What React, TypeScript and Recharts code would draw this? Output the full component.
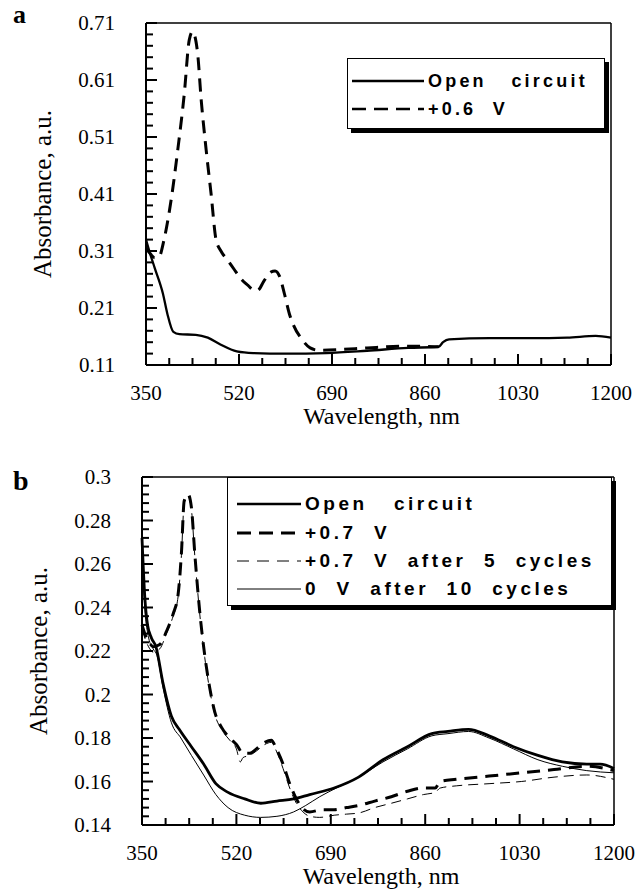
import React from "react";
import { LineChart, Line, XAxis, YAxis, Legend, CartesianGrid } from "recharts";

// wavelength axis, both panels
const wavelengthTicks = [350, 520, 690, 860, 1030, 1200];

// panel a
const absTicksA = [0.11, 0.21, 0.31, 0.41, 0.51, 0.61, 0.71];
const absLabelsA = ["0.11", "0.21", "0.31", "0.41", "0.51", "0.61", "0.71"];
const openWaveA = [350, 356, 366, 381, 389, 400, 411, 441, 463, 486, 516, 546, 605, 680, 754, 829, 885, 893, 904, 978, 1053, 1120, 1172, 1200];
const openAbsA = [0.33, 0.31, 0.28, 0.235, 0.2, 0.168, 0.164, 0.163, 0.158, 0.146, 0.134, 0.131, 0.13, 0.131, 0.135, 0.14, 0.142, 0.15, 0.155, 0.157, 0.157, 0.158, 0.161, 0.158];
const biasWaveA = [350, 358, 366, 374, 383, 396, 408, 420, 429, 435, 444, 451, 460, 469, 478, 487, 500, 511, 523, 536, 546, 554, 566, 578, 586, 594, 603, 612, 620, 635, 650, 665, 702, 754, 829, 885];
const biasAbsA = [0.315, 0.305, 0.298, 0.3, 0.33, 0.4, 0.487, 0.586, 0.68, 0.695, 0.66, 0.574, 0.487, 0.41, 0.33, 0.31, 0.293, 0.278, 0.262, 0.25, 0.242, 0.241, 0.258, 0.273, 0.275, 0.266, 0.235, 0.2, 0.179, 0.155, 0.14, 0.136, 0.137, 0.14, 0.143, 0.142];

// panel b
const absTicksB = [0.14, 0.16, 0.18, 0.2, 0.22, 0.24, 0.26, 0.28, 0.3];
const absLabelsB = ["0.14", "0.16", "0.18", "0.2", "0.22", "0.24", "0.26", "0.28", "0.3"];
const openWaveB = [350, 355, 360, 367, 375, 388, 403, 417, 439, 461, 483, 505, 535, 564, 593, 623, 652, 696, 740, 784, 828, 872, 901, 938, 975, 1019, 1063, 1107, 1151, 1175, 1200];
const openAbsB = [0.272, 0.245, 0.232, 0.226, 0.222, 0.205, 0.19, 0.184, 0.176, 0.168, 0.159, 0.155, 0.152, 0.15, 0.151, 0.152, 0.154, 0.157, 0.162, 0.17, 0.176, 0.182, 0.183, 0.184, 0.181, 0.176, 0.172, 0.169, 0.168, 0.168, 0.166];
const biasWaveB = [350, 358, 364, 370, 382, 394, 406, 415, 421, 426, 433, 439, 445, 454, 463, 472, 481, 493, 508, 520, 532, 544, 556, 571, 583, 592, 604, 616, 628, 638, 652, 674, 696, 718, 740, 769, 799, 828, 857, 878, 887, 916, 975, 1033, 1092, 1151, 1200];
const biasAbsB = [0.232, 0.226, 0.2235, 0.222, 0.223, 0.229, 0.237, 0.246, 0.265, 0.289, 0.292, 0.286, 0.265, 0.238, 0.218, 0.203, 0.192, 0.185, 0.18, 0.177, 0.173, 0.173, 0.175, 0.178, 0.179, 0.175, 0.168, 0.159, 0.152, 0.148, 0.146, 0.147, 0.147, 0.148, 0.149, 0.151, 0.153, 0.1555, 0.157, 0.157, 0.16, 0.161, 0.1625, 0.164, 0.1655, 0.167, 0.165];
const cycledWaveB = [350, 358, 364, 370, 382, 394, 406, 415, 421, 426, 433, 439, 445, 454, 463, 472, 481, 493, 508, 520, 527, 532, 544, 556, 571, 583, 592, 604, 616, 628, 640, 652, 670, 696, 718, 740, 769, 799, 828, 857, 878, 887, 916, 975, 1033, 1092, 1151, 1200];
const cycledAbsB = [0.23, 0.224, 0.221, 0.2195, 0.221, 0.228, 0.236, 0.245, 0.264, 0.288, 0.291, 0.285, 0.264, 0.237, 0.217, 0.202, 0.191, 0.184, 0.179, 0.175, 0.169, 0.171, 0.172, 0.174, 0.177, 0.178, 0.174, 0.166, 0.157, 0.15, 0.146, 0.144, 0.1435, 0.1445, 0.145, 0.1455, 0.148, 0.15, 0.152, 0.154, 0.155, 0.157, 0.158, 0.159, 0.16, 0.162, 0.163, 0.161];
const zeroWaveB = [350, 355, 362, 370, 377, 388, 403, 420, 439, 461, 483, 505, 535, 564, 593, 623, 645, 670, 700, 740, 784, 828, 872, 901, 938, 975, 1019, 1063, 1107, 1151, 1200];
const zeroAbsB = [0.265, 0.24, 0.226, 0.221, 0.218, 0.203, 0.187, 0.18, 0.172, 0.163, 0.154, 0.148, 0.1445, 0.1435, 0.144, 0.146, 0.149, 0.153, 0.157, 0.162, 0.169, 0.175, 0.181, 0.182, 0.183, 0.18, 0.175, 0.17, 0.167, 0.165, 0.164];

const serif = "'Liberation Serif', 'Times New Roman', serif";
const sans = "'Liberation Sans', Arial, sans-serif";

const pts = (xs: number[], ys: number[]) => xs.map((x, i) => ({ x, y: ys[i] }));

// majors plus evenly spaced minor ticks between them
const withMinor = (majors: number[], parts: number) => {
  const out: number[] = [];
  majors.forEach((m, i) => {
    out.push(m);
    const next = majors[i + 1];
    if (next === undefined) return;
    for (let k = 1; k < parts; k++) out.push(+(m + ((next - m) * k) / parts).toFixed(4));
  });
  return out;
};

const isIn = (list: number[], v: number) => list.some((m) => Math.abs(m - v) < 1e-6);

// inward tick marks as tiny two-point series; length given in pixels, converted with the axis span
type Frame = { x0: number; x1: number; y0: number; y1: number; w: number; h: number };
const tickSegments = (f: Frame, xs: number[], ys: number[], xMajors: number[], yMajors: number[]) => {
  const pxX = (f.x1 - f.x0) / f.w;
  const pxY = (f.y1 - f.y0) / f.h;
  const segs: { x: number; y: number }[][] = [];
  xs.forEach((v) => {
    const len = isIn(xMajors, v) ? 11 : 7;
    segs.push([{ x: v, y: f.y0 }, { x: v, y: f.y0 + len * pxY }]);
  });
  ys.forEach((v) => {
    const len = isIn(yMajors, v) ? 11 : 7;
    segs.push([{ x: f.x0, y: v }, { x: f.x0 + len * pxX, y: v }]);
  });
  return segs.map((d, i) => (
    <Line key={`t${i}`} data={d} dataKey="y" type="linear" stroke="#000" strokeWidth={2} dot={false} legendType="none" isAnimationActive={false} />
  ));
};

const xTick = (props: any) => (
  <text x={props.x} y={props.y} textAnchor="middle" dominantBaseline="central" fontFamily={serif} fontSize={21} fill="#000">
    {props.payload.value}
  </text>
);

const yTick = (majors: number[], labels: string[]) => (props: any) => {
  const idx = majors.findIndex((m) => Math.abs(m - props.payload.value) < 1e-6);
  return (
    <text x={props.x} y={props.y} textAnchor="end" dominantBaseline="central" fontFamily={serif} fontSize={21} fill="#000">
      {labels[idx]}
    </text>
  );
};

const yTitle = (props: any) => {
  const vb = props.viewBox;
  const cx = vb.x + vb.width - 104;
  const cy = vb.y + vb.height / 2;
  return (
    <text x={cx} y={cy} transform={`rotate(-90 ${cx} ${cy})`} textAnchor="middle" dominantBaseline="central" fontFamily={serif} fontSize={25} fill="#000">
      Absorbance, a.u.
    </text>
  );
};

const xTitle = (dy: number) => (props: any) => {
  const vb = props.viewBox;
  return (
    <text x={vb.x + vb.width / 2 + 3} y={vb.y + dy} textAnchor="middle" dominantBaseline="central" fontFamily={serif} fontSize={24} fill="#000">
      Wavelength, nm
    </text>
  );
};

// plot frame: only the outer edges of the grid
const frameH = ({ offset }: any) => [offset.top, offset.top + offset.height];
const frameV = ({ offset }: any) => [offset.left, offset.left + offset.width];

type Entry = { name: string; width: number; dash?: string };

const legendBox =
  (entries: Entry[], o: { rows: number[]; sx: number; sw: number; tx: number; font: number; ls: number }) =>
  () =>
    (
      <div
        style={{
          position: "relative",
          width: "100%",
          height: "100%",
          boxSizing: "border-box",
          border: "1.5px solid #000",
          boxShadow: "4px 4px 0 #000",
          background: "#fff",
        }}
      >
        {entries.map((e, i) => (
          <div key={e.name} style={{ position: "absolute", left: 0, top: o.rows[i] - 12, height: 24, width: "100%" }}>
            <svg width={o.sw} height={24} style={{ position: "absolute", left: o.sx, top: 0 }}>
              <line x1={0} x2={o.sw} y1={12} y2={12} stroke="#000" strokeWidth={e.width} strokeDasharray={e.dash} />
            </svg>
            <span
              style={{
                position: "absolute",
                left: o.tx,
                top: 0,
                lineHeight: "24px",
                fontFamily: sans,
                fontWeight: 700,
                fontSize: o.font,
                letterSpacing: o.ls,
                whiteSpace: "pre",
                color: "#000",
              }}
            >
              {e.name}
            </span>
          </div>
        ))}
      </div>
    );

const legendA: Entry[] = [
  { name: "Open   circuit", width: 2.5 },
  { name: "+0.6  V", width: 2.5, dash: "14 8" },
];
const legendB: Entry[] = [
  { name: "Open   circuit", width: 2.5 },
  { name: "+0.7  V", width: 3, dash: "14 8" },
  { name: "+0.7  V  after  5  cycles", width: 1, dash: "12 8" },
  { name: "0  V  after  10  cycles", width: 1 },
];

const xAll = withMinor(wavelengthTicks, 4);
const frameA: Frame = { x0: 350, x1: 1200, y0: 0.11, y1: 0.71, w: 465, h: 342 };
const frameB: Frame = { x0: 350, x1: 1200, y0: 0.14, y1: 0.3, w: 472, h: 348 };

function PanelA() {
  return (
    <LineChart width={638} height={430} margin={{ top: 23, right: 27, left: 106, bottom: 35 }}>
      <CartesianGrid stroke="#000" strokeWidth={1.5} fill="none" horizontalCoordinatesGenerator={frameH} verticalCoordinatesGenerator={frameV} />
      <XAxis
        type="number"
        dataKey="x"
        domain={[350, 1200]}
        ticks={wavelengthTicks}
        interval={0}
        tickSize={0}
        tickMargin={28}
        tickLine={false}
        tick={xTick}
        height={30}
        axisLine={{ stroke: "#000", strokeWidth: 2 }}
        label={xTitle(51)}
      />
      <YAxis
        type="number"
        dataKey="y"
        domain={[0.11, 0.71]}
        ticks={absTicksA}
        interval={0}
        tickSize={0}
        tickMargin={31}
        tickLine={false}
        tick={yTick(absTicksA, absLabelsA)}
        width={40}
        axisLine={{ stroke: "#000", strokeWidth: 2 }}
        label={yTitle}
      />
      <Legend
        layout="vertical"
        align="center"
        verticalAlign="middle"
        wrapperStyle={{ left: 347, top: 58, width: 258, height: 71 }}
        content={legendBox(legendA, { rows: [22, 50], sx: 4, sw: 72, tx: 80, font: 18, ls: 3.2 })}
      />
      {tickSegments(frameA, xAll, withMinor(absTicksA, 5), wavelengthTicks, absTicksA)}
      <Line data={pts(biasWaveA, biasAbsA)} dataKey="y" name="+0.6 V" type="monotone" stroke="#000" strokeWidth={3} strokeDasharray="13 8" dot={false} isAnimationActive={false} />
      <Line data={pts(openWaveA, openAbsA)} dataKey="y" name="Open circuit" type="monotone" stroke="#000" strokeWidth={2.3} dot={false} isAnimationActive={false} />
    </LineChart>
  );
}

function PanelB() {
  return (
    <LineChart width={638} height={452} margin={{ top: 37, right: 24, left: 102, bottom: 37 }}>
      <CartesianGrid stroke="#000" strokeWidth={1.5} fill="none" horizontalCoordinatesGenerator={frameH} verticalCoordinatesGenerator={frameV} />
      <XAxis
        type="number"
        dataKey="x"
        domain={[350, 1200]}
        ticks={wavelengthTicks}
        interval={0}
        tickSize={0}
        tickMargin={28}
        tickLine={false}
        tick={xTick}
        height={30}
        axisLine={{ stroke: "#000", strokeWidth: 2 }}
        label={xTitle(51)}
      />
      <YAxis
        type="number"
        dataKey="y"
        domain={[0.14, 0.3]}
        ticks={absTicksB}
        interval={0}
        tickSize={0}
        tickMargin={31}
        tickLine={false}
        tick={yTick(absTicksB, absLabelsB)}
        width={40}
        axisLine={{ stroke: "#000", strokeWidth: 2 }}
        label={yTitle}
      />
      <Legend
        layout="vertical"
        align="center"
        verticalAlign="middle"
        wrapperStyle={{ left: 227, top: 37, width: 385, height: 129 }}
        content={legendBox(legendB, { rows: [26, 55, 83, 111], sx: 9, sw: 64, tx: 77, font: 19, ls: 3.5 })}
      />
      {tickSegments(frameB, xAll, withMinor(absTicksB, 5), wavelengthTicks, absTicksB)}
      <Line data={pts(zeroWaveB, zeroAbsB)} dataKey="y" name="0 V after 10 cycles" type="monotone" stroke="#000" strokeWidth={1} dot={false} isAnimationActive={false} />
      <Line data={pts(cycledWaveB, cycledAbsB)} dataKey="y" name="+0.7 V after 5 cycles" type="monotone" stroke="#000" strokeWidth={1} strokeDasharray="10 6" dot={false} isAnimationActive={false} />
      <Line data={pts(biasWaveB, biasAbsB)} dataKey="y" name="+0.7 V" type="monotone" stroke="#000" strokeWidth={3} strokeDasharray="13 8" dot={false} isAnimationActive={false} />
      <Line data={pts(openWaveB, openAbsB)} dataKey="y" name="Open circuit" type="monotone" stroke="#000" strokeWidth={2.8} dot={false} isAnimationActive={false} />
    </LineChart>
  );
}

export default function App() {
  return (
    <div style={{ position: "absolute", left: 0, top: 0, width: 638, height: 892, background: "#fff" }}>
      <div style={{ position: "absolute", left: 0, top: 0 }}>
        <PanelA />
      </div>
      <div style={{ position: "absolute", left: 0, top: 440 }}>
        <PanelB />
      </div>
      <div style={{ position: "absolute", left: 13, top: 1, fontFamily: serif, fontWeight: 700, fontSize: 26, lineHeight: "28px" }}>a</div>
      <div style={{ position: "absolute", left: 13, top: 466, fontFamily: serif, fontWeight: 700, fontSize: 28, lineHeight: "30px" }}>b</div>
    </div>
  );
}
